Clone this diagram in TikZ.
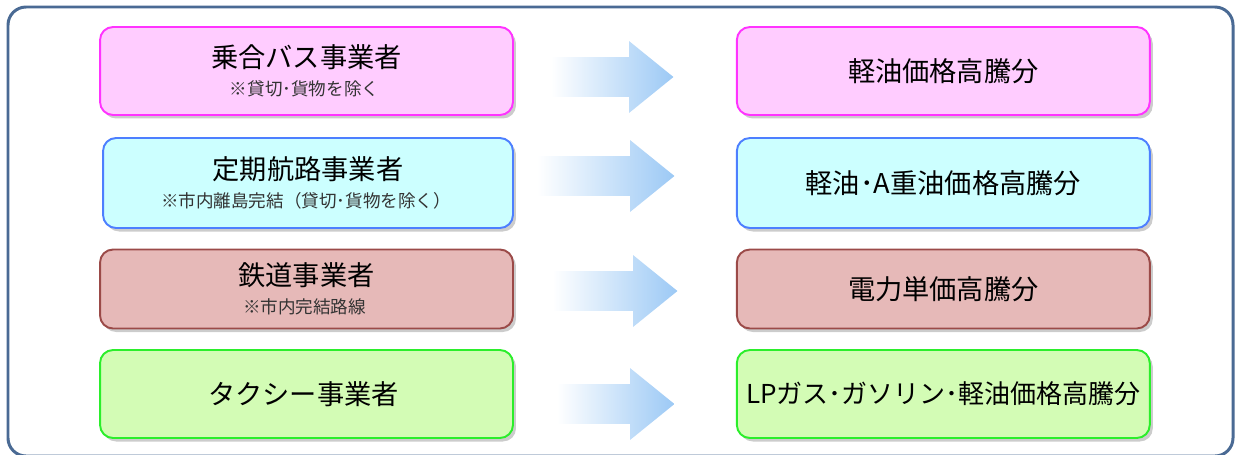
\documentclass[tikz,border=0pt]{standalone}
\usepackage{fontspec}
\setmainfont{Noto Sans CJK JP}
\usepackage{tikz}
\usetikzlibrary{positioning,shadows,shapes.arrows}
\usepackage[dvipsnames]{xcolor}

\definecolor{PinkFill}{HTML}{FFCCFF}
\definecolor{PinkLine}{HTML}{FF33FF}
\definecolor{CyanFill}{HTML}{CCFFFF}
\definecolor{CyanLine}{HTML}{4D7FFF}
\definecolor{RoseFill}{HTML}{E6B9B8}
\definecolor{RoseLine}{HTML}{9B4A48}
\definecolor{LimeFill}{HTML}{D3FCB5}
\definecolor{LimeLine}{HTML}{2BEE2B}
\definecolor{ArrowBlue}{HTML}{9CC9F5}
\definecolor{FrameBlue}{HTML}{4A6A94}

\newcommand{\bigjp}{\fontsize{15.5}{18}\selectfont}
\newcommand{\smalljp}{\fontsize{10}{12}\selectfont\color{black!80}}

\tikzset{
	box/.style={rectangle, rounded corners=0.26cm, minimum width=8.26cm, align=center, text centered, line width=1.1pt,
		drop shadow={shadow xshift=0.06cm, shadow yshift=-0.07cm, fill=black!50, opacity=0.4}},
	blockarrow/.style={single arrow, anchor=tip, minimum height=2.45cm, minimum width=1.42cm, single arrow head extend=0.32cm,
		single arrow tip angle=78, single arrow head indent=0cm, inner xsep=0pt, inner ysep=0.39cm, left color=white, right color=ArrowBlue}
}

\begin{document}
\begin{tikzpicture}[x=0.02cm,y=-0.02cm]
	\useasboundingbox (0,0) rectangle (1236,454);
	% outer frame
	\draw[FrameBlue, line width=1.7pt, rounded corners=0.36cm] (8,7) rectangle (1233,456);

	% left column
	\node (lbus)[box, minimum height=1.76cm, draw=PinkLine, fill=PinkFill] at (306.5,71) {
		\bigjp 乗合バス事業者\\[4pt]
		\smalljp ※貸切･貨物を除く
	};
	\node (lship)[box, minimum width=8.2cm, minimum height=1.8cm, draw=CyanLine, fill=CyanFill] at (308,183) {
		\bigjp 定期航路事業者\\[4pt]
		\smalljp ※市内離島完結（貸切･貨物を除く）
	};
	\node (lrail)[box, minimum height=1.58cm, draw=RoseLine, fill=RoseFill] at (306.5,289) {
		\bigjp 鉄道事業者\\[4pt]
		\smalljp ※市内完結路線
	};
	\node (ltaxi)[box, minimum height=1.76cm, draw=LimeLine, fill=LimeFill] at (306.5,394) {
		\bigjp タクシー事業者
	};

	% right column
	\node (rbus)[box, minimum height=1.76cm, draw=PinkLine, fill=PinkFill, right=4.44cm of lbus] {\bigjp 軽油価格高騰分};
	\node (rship)[box, minimum height=1.8cm, draw=CyanLine, fill=CyanFill, right=4.44cm of lship] {\bigjp 軽油･A重油価格高騰分};
	\node (rrail)[box, minimum height=1.58cm, draw=RoseLine, fill=RoseFill, right=4.44cm of lrail] {\bigjp 電力単価高騰分};
	\node (rtaxi)[box, minimum height=1.76cm, draw=LimeLine, fill=LimeFill, right=4.44cm of ltaxi] {\fontsize{14.8}{17}\selectfont LPガス･ガソリン･軽油価格高騰分};

	% arrows
	\node (abus)[blockarrow] at (674,77) {};
	\node (aship)[blockarrow, minimum height=2.75cm] at (675,176) {};
	\node (arail)[blockarrow, minimum height=2.5cm] at (678,291) {};
	\node (ataxi)[blockarrow, minimum height=2.35cm] at (675,404) {};
\end{tikzpicture}
\end{document}
